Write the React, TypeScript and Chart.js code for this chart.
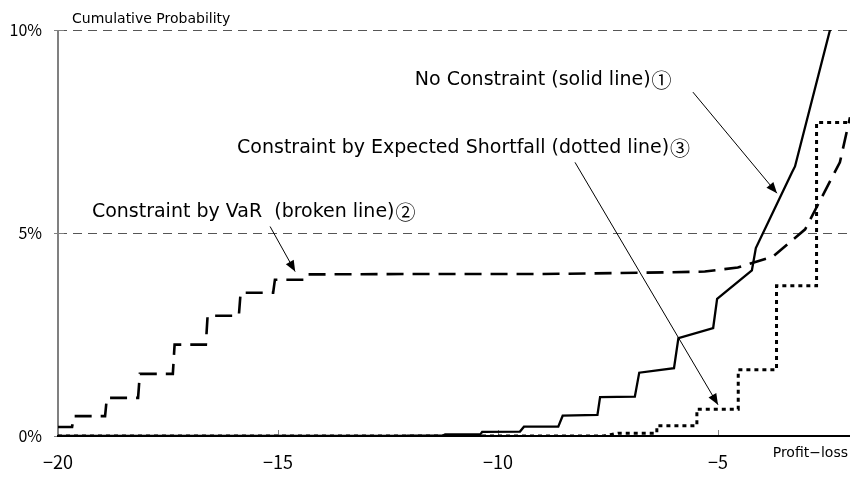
import React, { useEffect, useRef } from 'react';
import { Chart, registerables } from 'chart.js';

Chart.register(...registerables);

// ---- axis / tick values ----
const xTicks = [-20, -15, -10, -5];
const yTicks = [0, 5, 10];
const gridLevels = [5, 10];
const xMin = -20;
const xMax = -2;
const yMin = 0;
const yMax = 10;

// ---- series: No Constraint (solid line) ----
const solidX = [-20, -12.1, -12.05, -11.25, -11.2, -10.4, -10.36, -9.5, -9.41, -8.63, -8.53, -7.74, -7.68, -6.89, -6.79, -6.0, -5.9, -5.11, -5.02, -4.23, -4.14, -3.32, -3.25, -2.45];
const solidY = [0, 0, 0.01, 0.01, 0.04, 0.04, 0.1, 0.11, 0.23, 0.23, 0.5, 0.52, 0.96, 0.97, 1.56, 1.67, 2.41, 2.66, 3.38, 4.08, 4.63, 6.49, 6.64, 10.02];

// ---- series: Constraint by VaR (broken line) ----
const varX = [-20, -19.68, -19.64, -18.93, -18.89, -18.18, -18.14, -17.39, -17.35, -16.64, -16.6, -15.89, -15.85, -15.11, -15.07, -14.36, -14.32, -12, -9, -6.77, -5.3, -4.55, -3.75, -3.02, -2.23, -2.0];
const varY = [0.22, 0.22, 0.49, 0.49, 0.94, 0.94, 1.53, 1.53, 2.25, 2.25, 2.96, 2.96, 3.53, 3.53, 3.85, 3.85, 3.98, 3.99, 3.99, 4.02, 4.05, 4.15, 4.42, 5.09, 6.74, 7.85];

// ---- series: Constraint by Expected Shortfall (dotted line) ----
const esX = [-20, -7.6, -7.45, -7.27, -6.39, -6.39, -5.48, -5.48, -4.54, -4.54, -3.67, -3.67, -2.76, -2.76, -2.0];
const esY = [0, 0, 0.03, 0.07, 0.07, 0.25, 0.25, 0.66, 0.66, 1.63, 1.63, 3.7, 3.7, 7.72, 7.72];

// ---- texts ----
const yTitle = 'Cumulative Probability';
const xTitle = 'Profit\u2212loss';
const noteTexts = [
  'No Constraint (solid line)',
  'Constraint by Expected Shortfall (dotted line)',
  'Constraint by VaR  (broken line)',
];
const noteMarks = ['①', '③', '②'];
// label anchors (data units) and arrow start/end (data units)
const noteAnchorX = [-11.89, -15.93, -19.23];
const noteAnchorY = [8.77, 7.09, 5.51];
const arrowFromX = [-5.57, -8.25, -15.18];
const arrowFromY = [8.47, 6.74, 5.16];
const arrowToX = [-3.66, -5.0, -14.61];
const arrowToY = [5.98, 0.77, 4.05];

const FONT = '"Noto Sans CJK JP", "Noto Sans", sans-serif';
const TEXT_FONT = '"DejaVu Sans", "Noto Sans CJK JP", sans-serif';

const zip = (xs: number[], ys: number[]) => xs.map((x, i) => ({ x, y: ys[i] }));

function drawArrow(ctx: CanvasRenderingContext2D, x1: number, y1: number, x2: number, y2: number) {
  ctx.beginPath();
  ctx.moveTo(x1, y1);
  ctx.lineTo(x2, y2);
  ctx.stroke();
  const a = Math.atan2(y2 - y1, x2 - x1);
  const L = 11;
  const W = 4.5;
  ctx.beginPath();
  ctx.moveTo(x2, y2);
  ctx.lineTo(x2 - L * Math.cos(a) + W * Math.sin(a), y2 - L * Math.sin(a) - W * Math.cos(a));
  ctx.lineTo(x2 - L * Math.cos(a) - W * Math.sin(a), y2 - L * Math.sin(a) + W * Math.cos(a));
  ctx.closePath();
  ctx.fill();
}

const overlayPlugin = {
  id: 'overlay',
  beforeDatasetsDraw(chart: any) {
    const { ctx, chartArea, scales } = chart;
    const { left, right, top, bottom } = chartArea;
    const x = scales.x;
    const y = scales.y;
    ctx.save();
    // dashed horizontal reference lines
    ctx.strokeStyle = '#555';
    ctx.lineWidth = 1;
    ctx.setLineDash([9, 6]);
    for (const v of gridLevels) {
      const py = Math.round(y.getPixelForValue(v)) + 0.5;
      ctx.beginPath();
      ctx.moveTo(left, py);
      ctx.lineTo(right, py);
      ctx.stroke();
    }
    ctx.setLineDash([]);
    // y axis line
    ctx.strokeStyle = '#808080';
    ctx.lineWidth = 2;
    ctx.beginPath();
    ctx.moveTo(left, top);
    ctx.lineTo(left, bottom);
    ctx.stroke();
    // y ticks
    ctx.lineWidth = 1;
    for (const v of yTicks) {
      const py = Math.round(y.getPixelForValue(v)) + 0.5;
      ctx.beginPath();
      ctx.moveTo(left - 4, py);
      ctx.lineTo(left + 6, py);
      ctx.stroke();
    }
    // x ticks (inward)
    for (const v of xTicks) {
      const px = Math.round(x.getPixelForValue(v)) + 0.5;
      ctx.beginPath();
      ctx.moveTo(px, bottom);
      ctx.lineTo(px, bottom - 6);
      ctx.stroke();
    }
    ctx.restore();
  },
  afterDatasetsDraw(chart: any) {
    const { ctx, chartArea, scales } = chart;
    const { left, right, top, bottom } = chartArea;
    const x = scales.x;
    const y = scales.y;
    ctx.save();
    // x axis line
    ctx.strokeStyle = '#000';
    ctx.lineWidth = 2;
    ctx.beginPath();
    ctx.moveTo(left - 1, bottom);
    ctx.lineTo(right, bottom);
    ctx.stroke();
    // axis titles
    ctx.fillStyle = '#000';
    ctx.font = `14px ${TEXT_FONT}`;
    ctx.textBaseline = 'alphabetic';
    ctx.textAlign = 'left';
    ctx.fillText(yTitle, left + 14, top - 7);
    ctx.textAlign = 'right';
    ctx.fillText(xTitle, right - 2, bottom + 21);
    // annotations
    ctx.textAlign = 'left';
    ctx.textBaseline = 'middle';
    ctx.lineWidth = 1;
    ctx.strokeStyle = '#000';
    for (let i = 0; i < noteTexts.length; i++) {
      const tx = x.getPixelForValue(noteAnchorX[i]);
      const ty = y.getPixelForValue(noteAnchorY[i]);
      ctx.font = `19px ${TEXT_FONT}`;
      ctx.fillText(noteTexts[i], tx, ty);
      const w = ctx.measureText(noteTexts[i]).width;
      ctx.font = `20px "Noto Sans CJK JP", sans-serif`;
      ctx.fillText(noteMarks[i], tx + w + 1, ty);
      drawArrow(
        ctx,
        x.getPixelForValue(arrowFromX[i]),
        y.getPixelForValue(arrowFromY[i]),
        x.getPixelForValue(arrowToX[i]),
        y.getPixelForValue(arrowToY[i])
      );
    }
    ctx.restore();
  },
};

export default function App() {
  const ref = useRef<HTMLCanvasElement>(null);
  useEffect(() => {
    document.body.style.margin = '0';
    const canvas = ref.current;
    if (!canvas) return;
    const chart = new Chart(canvas, {
      type: 'line',
      data: {
        datasets: [
          {
            label: 'No Constraint',
            data: zip(solidX, solidY),
            borderColor: '#000',
            borderWidth: 2.3,
            pointRadius: 0,
            tension: 0,
            fill: false,
          },
          {
            label: 'Constraint by VaR',
            data: zip(varX, varY),
            borderColor: '#000',
            borderWidth: 2.6,
            borderDash: [17, 9],
            pointRadius: 0,
            tension: 0,
            fill: false,
          },
          {
            label: 'Constraint by Expected Shortfall',
            data: zip(esX, esY),
            borderColor: '#000',
            borderWidth: 3,
            borderDash: [4, 4],
            pointRadius: 0,
            tension: 0,
            fill: false,
          },
        ],
      },
      options: {
        responsive: false,
        animation: false,
        layout: { padding: { top: 30, right: 0, left: 0, bottom: 0 } },
        plugins: {
          legend: { display: false },
          tooltip: { enabled: false },
          title: { display: false },
        },
        scales: {
          x: {
            type: 'linear',
            min: xMin,
            max: xMax,
            grid: { display: false, drawTicks: false },
            border: { display: false },
            afterBuildTicks: (s: any) => {
              s.ticks = xTicks.map((v) => ({ value: v }));
            },
            afterFit: (s: any) => {
              s.height = 41;
            },
            ticks: {
              padding: 15,
              color: '#000',
              font: { family: FONT, size: 18 },
              maxRotation: 0,
              callback: (v: any) => String(v).replace('-', '\u2212'),
            },
          },
          y: {
            type: 'linear',
            min: yMin,
            max: yMax,
            grid: { display: false, drawTicks: false },
            border: { display: false },
            afterBuildTicks: (s: any) => {
              s.ticks = yTicks.map((v) => ({ value: v }));
            },
            afterFit: (s: any) => {
              s.width = 58;
            },
            ticks: {
              padding: 16,
              color: '#000',
              font: { family: FONT, size: 16 },
              callback: (v: any) => `${v}%`,
            },
          },
        },
      },
      plugins: [overlayPlugin],
    });
    return () => chart.destroy();
  }, []);
  return (
    <div style={{ width: 850, height: 477 }}>
      <canvas ref={ref} width={850} height={477} style={{ display: 'block' }} />
    </div>
  );
}
